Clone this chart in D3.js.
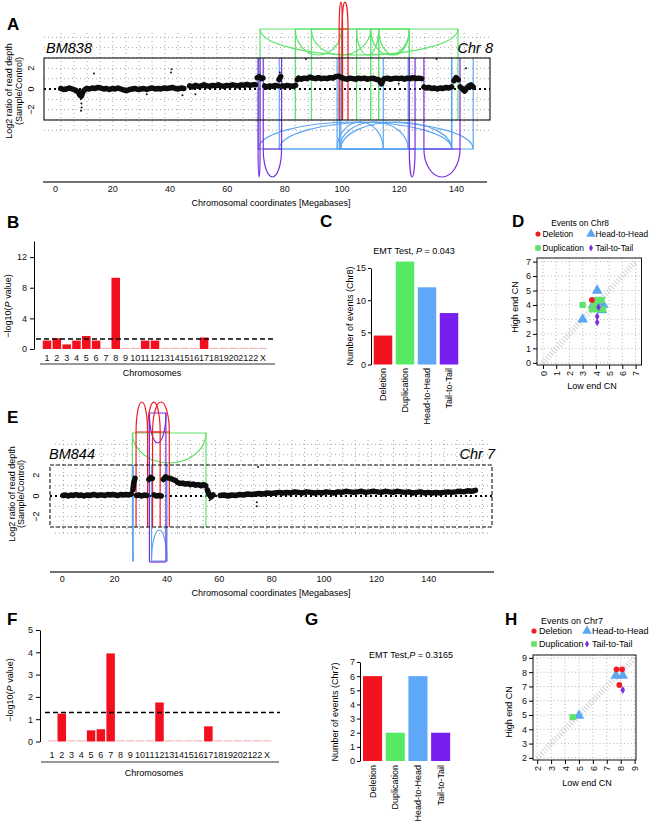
<!DOCTYPE html>
<html>
<head>
<meta charset="utf-8">
<script src="https://cdn.jsdelivr.net/npm/d3@7/dist/d3.min.js"></script>
<style>
  body { margin: 0; background: #fff; }
  svg { display: block; font-family: "Liberation Sans", Arial, sans-serif; }
</style>
</head>
<body>
<svg width="652" height="822"></svg>
<script>
'use strict'

// ---------- data ----------
const CHROMS = ['1','2','3','4','5','6','7','8','9','10','11','12','13','14','15','16','17','18','19','20','21','22','X'];
const EVENT_TYPES = ['Deletion', 'Duplication', 'Head-to-Head', 'Tail-to-Tail'];
const MB_TICKS = [0, 20, 40, 60, 80, 100, 120, 140];
const P_CUTOFF = 0.05;

// B and F: -log10(P) per chromosome
const bm838LogP = [1.1, 1.4, 0.6, 1.1, 1.7, 1.1, 0, 9.3, 0, 0, 1.1, 1.1, 0, 0, 0, 0, 1.5, 0, 0, 0, 0, 0, 0];
const bm844LogP = [0, 1.25, 0, 0, 0.5, 0.55, 3.95, 0, 0, 0, 0, 1.75, 0, 0, 0, 0, 0.68, 0, 0, 0, 0, 0, 0];

// C and G: events per type
const chr8EventCounts = [4.5, 16, 12, 8];
const chr7EventCounts = [6, 2, 6, 2];

// A: BM838 chr8 log2 read depth ratio, [Mb, log2]
const bm838Depth = [
  [[2,0.05],[3,-0.05],[4,0],[5,0.1],[6,0],[7,-0.1],[8,-0.25],[8.7,-0.6],[9.2,-0.7],[9.7,-0.3],[10.3,-0.1],[11,0.05],[12,0],[13,0.1],[14,0.05],[15,0.15],[16,0.1],[17,0],[18,0.05],[19,-0.05],[20,0.05],[21,0],[22,0.1],[23,0],[24,-0.1],[25,-0.15],[26,-0.05],[27,0],[28,0.05],[29,-0.05],[30,0],[31,0.05],[32,-0.05],[33,0.05],[34,0.1],[35,0],[36,0.05],[37,0],[38,0.1],[39,0.05],[40,0.1],[41,0.15],[42,0.05],[43,0],[44,0.1],[45,0.05]],
  [[47,0.3],[48,0.2],[49,0.35],[50,0.25],[51,0.3],[52,0.4],[53,0.3],[54,0.25],[55,0.35],[56,0.3],[57,0.4],[58,0.3],[59,0.25],[60,0.35],[61,0.3],[62,0.4],[63,0.35],[64,0.3],[65,0.4],[66,0.35],[67,0.45],[68,0.35],[69,0.4],[70,0.4]],
  [[70.6,1.1],[71.3,1.2],[72,1.0],[72.6,1.05]],
  [[73.2,0.3],[74,0.2],[75,0.3],[76,0.25],[77,0.35],[77.8,0.3]],
  [[78.2,0.9],[78.8,1.2]],
  [[79.4,0.3],[80,0.25],[81,0.35],[82,0.3],[83,0.25],[84,0.35]],
  [[84.6,0.9],[85,1.05],[86,0.95],[87,1.05],[88,1.0],[89,1.15],[90,1.05],[91,1.0],[92,1.1],[93,1.0],[94,1.05],[95,1.0],[96,1.1],[97,1.05],[98,1.2],[99,1.25],[100,1.1],[101,1.0],[102,0.95],[103,1.05],[104,1.0],[105,0.95],[106,1.05],[107,1.0],[108,1.05],[109,0.95],[110,1.0],[111,1.05],[112,0.95],[113,0.9],[114,0.5],[114.6,0.9],[115,1.0],[116,1.05],[117,0.95],[118,1.0],[119,1.05],[120,1.0],[121,1.05],[122,0.95],[123,1.05],[124,1.0],[125,1.1],[126,1.0],[127,1.05],[128,1.0]],
  [[128.8,0.2],[129.5,0.1],[130.5,0.15],[131.5,0.05],[132.5,0.1],[133.5,0],[134.5,0.1],[135.5,0.05],[136.5,0.15],[137.5,0.1],[138.5,0.2]],
  [[139.3,0.8],[140,1.1],[140.8,0.9]],
  [[141.5,0.2],[142.3,0],[143,-0.2],[143.8,0.1],[144.5,0.3],[145.2,0.4],[146,0.2]]
];
const bm838Outliers = [[13.6,1.5],[40.5,1.6],[40.7,1.9],[9,-1.0],[9.2,-1.4],[9.3,-1.8],[9.1,-2.1],[32,-0.5],[44.5,-0.6],[49,-0.5],[87.6,2.9],[133.2,2.9],[143.5,2.0],[78.5,1.6],[120,0.5]];

// A: rearrangement breakpoint pairs [Mb, Mb]
const bm838Deletion = [[99.2,100.4],[100.2,102.3]];
const bm838Duplication = [[71.6,140.7],[83.9,100],[89.5,110.2],[105.3,113],[110.2,123.7],[113,123.7]];
const bm838HeadToHead = [[71,138.5],[78.3,146],[98.5,114.6],[99.3,123.3],[99.8,138.5]];
const bm838TailToTail = [[70.9,71.6],[72.7,79.1],[123.7,125.7],[128.8,141.4]];

// E: BM844 chr7 log2 read depth ratio
const bm844Depth = [
  [[0.5,0.05],[1.5,0.1],[2.5,0],[3.5,0.1],[4.5,0.05],[5.5,0.15],[6.5,0.05],[7.5,0.1],[8.5,0],[9.5,0.1],[10.5,0.05],[11.5,0.1],[12.5,0.15],[13.5,0.05],[14.5,0.1],[15.5,0.1],[16.5,0.05],[17.5,0.15],[18.5,0.1],[19.5,0.15],[20.5,0.1],[21.5,0.05],[22.5,0.15],[23.5,0.1],[24.5,0.15],[25.5,0.1],[26.5,0.2]],
  [[27.2,0.6],[27.6,1.4],[28,1.7]],
  [[28.6,0.05],[29.5,0.1],[30.5,0],[31.5,0.1],[32.5,0.05]],
  [[33.3,1.6],[34,1.8],[34.6,1.7]],
  [[35.3,0.1],[36.2,0],[37.1,0.05],[38,0]],
  [[38.8,1.6],[39.6,1.85],[40.5,1.75],[41.5,1.7],[42.5,1.6],[43.5,1.5]],
  [[44.3,1.3],[45.2,1.2],[46.2,1.25],[47.2,1.15],[48.2,1.2],[49.2,1.1],[50.2,1.15],[51.2,1.05],[52.2,1.1],[53.2,1.0],[54.2,1.1],[55,1.0]],
  [[55.6,0.6],[56.2,0.2],[57,-0.1],[57.8,0.1]],
  [[60.5,0.05],[62,0.1],[63.5,0],[65,0.1],[66.5,0.05],[68,0.15],[69.5,0.1],[71,0.2],[72.5,0.15],[74,0.2],[75.5,0.25],[77,0.2],[78.5,0.3],[80,0.25],[81.5,0.3],[83,0.35],[84.5,0.3],[86,0.35],[87.5,0.3],[89,0.4],[90.5,0.35],[92,0.3],[93.5,0.4],[95,0.35],[96.5,0.3],[98,0.35],[99.5,0.3],[101,0.4],[102.5,0.35],[104,0.3],[105.5,0.4],[107,0.35],[108.5,0.45],[110,0.4],[111.5,0.35],[113,0.4],[114.5,0.45],[116,0.35],[117.5,0.4],[119,0.45],[120.5,0.4],[122,0.35],[123.5,0.45],[125,0.4],[126.5,0.35],[128,0.45],[129.5,0.4],[131,0.35],[132.5,0.4],[134,0.3],[135.5,0.35],[137,0.4],[138.5,0.3],[140,0.35],[141.5,0.3],[143,0.35],[144.5,0.3],[146,0.35],[147.5,0.4],[149,0.35],[150.5,0.4],[152,0.45],[153.5,0.4],[155,0.5],[156.5,0.45],[158,0.55]]
];
const bm844Outliers = [[74.5,-0.6],[74.5,-1.0],[75,2.8],[27,0.9],[56.5,-0.4]];

// E: rearrangement breakpoint pairs
const bm844Deletion = [[28.4,32.8],[32.8,37.6],[34.7,41.1]];
const bm844Duplication = [[27,55.1]];
const bm844HeadToHead = [[27.1,27.3],[34.3,40.2]];
const bm844TailToTail = [[33.5,39.8]];

// D: chr8 events, [low end CN, high end CN]
const chr8CnDeletion = [[3.7,4.35]];
const chr8CnDuplication = [[3.0,4.0],[3.7,3.7],[3.85,4.0],[4.1,4.0],[4.1,4.35],[4.45,4.35],[4.55,3.7],[4.1,3.7]];
const chr8CnHeadToHead = [[3.0,3.0],[3.8,4.0],[4.1,5.0],[4.55,4.0],[4.45,3.65]];
const chr8CnTailToTail = [[4.2,3.85],[4.1,3.2],[4.1,2.8]];

// H: chr7 events
const chr7CnDeletion = [[7.7,8.2],[8.1,8.2],[7.9,7.1]];
const chr7CnDuplication = [[4.55,4.85]];
const chr7CnHeadToHead = [[7.65,7.75],[8.15,7.75],[5.0,4.95]];
const chr7CnTailToTail = [[8.15,6.75]];

// ---------- drawing ----------
const svg = d3.select('svg');
const COLORS = { del: '#ee1d25', dup: '#5fe36c', h2h: '#5ba6f2', t2t: '#7b2fe0' };
const BAR_COLORS = ['#f2131f', '#56ea63', '#5ea8f7', '#781ff0'];
const P_RED = '#f2101e';
const intFmt = d3.format('d');

function panelLabel(t, x, y) {
  svg.append('text').attr('x', x).attr('y', y)
    .attr('font-size', 17).attr('font-weight', 'bold').text(t);
}

function rotText(g, t, cx, cy) {
  return g.append('text')
    .attr('transform', `translate(${cx},${cy}) rotate(-90)`)
    .attr('text-anchor', 'middle').attr('dy', '0.35em')
    .attr('font-size', 9).text(t);
}

// half ellipse closed by its chord; negative depth goes up
function arcPath(x1, x2, base, depth) {
  const rx = Math.max((x2 - x1) / 2, 0.4);
  return `M${x1},${base}A${rx},${Math.abs(depth)} 0 0 ${depth < 0 ? 1 : 0} ${x2},${base}Z`;
}

function styleAxis(a) {
  a.attr('font-family', null).attr('font-size', 9);
  a.selectAll('text').attr('fill', '#111');
}

function drawCopyNumber(o) {
  const g = svg.append('g');
  const [fl, ft, fr, fb] = o.frame;
  const x = d3.scaleLinear().domain([0, 140]).range(o.xRange);
  const y = d3.scaleLinear().domain([-3, 3]).range([fb, ft]);

  // dotted guide grid, runs past the box
  const cols = d3.range(o.gridFrom, 170, o.gridStep).filter(d => x(d) < fr);
  g.append('g').selectAll('line').data(cols).join('line')
    .attr('x1', d => x(d)).attr('x2', d => x(d))
    .attr('y1', o.gridY[0]).attr('y2', o.gridY[1])
    .attr('stroke', '#8c8c8c').attr('stroke-width', 0.8).attr('stroke-dasharray', '1 3');
  g.append('g').selectAll('line').data(o.gridRows).join('line')
    .attr('x1', o.gridX[0]).attr('x2', o.gridX[1])
    .attr('y1', d => y(d)).attr('y2', d => y(d))
    .attr('stroke', '#8c8c8c').attr('stroke-width', 0.8).attr('stroke-dasharray', '1 3');
  g.append('line').attr('x1', fl).attr('x2', fr).attr('y1', y(0)).attr('y2', y(0))
    .attr('stroke', '#000').attr('stroke-width', 2).attr('stroke-dasharray', '2 3');

  // rearrangements
  ['dup', 'h2h', 't2t', 'del'].forEach(k => {
    const s = o.style[k];
    const ev = g.append('g').attr('stroke', COLORS[k]).attr('fill', 'none').attr('stroke-width', 1.2);
    ev.selectAll(null).data(o.events[k].flat()).join('line')
      .attr('x1', d => x(d)).attr('x2', d => x(d)).attr('y1', s.v[0]).attr('y2', s.v[1]);
    if (s.endChord) {
      ev.selectAll(null).data(o.events[k]).join('line')
        .attr('x1', d => x(d[0])).attr('x2', d => x(d[1])).attr('y1', s.v[1]).attr('y2', s.v[1]);
    }
    ev.selectAll(null).data(o.events[k]).join('path')
      .attr('d', d => arcPath(x(d[0]), x(d[1]), s.base, s.depth));
  });

  // read depth
  const line = d3.line().x(d => x(d[0])).y(d => y(d[1]));
  g.append('g').selectAll('path').data(o.depth).join('path')
    .attr('d', line).attr('fill', 'none').attr('stroke', '#0d0d0d').attr('stroke-width', 5.5)
    .attr('stroke-linejoin', 'round').attr('stroke-linecap', 'round');
  g.append('g').selectAll('circle').data(o.outliers).join('circle')
    .attr('cx', d => x(d[0])).attr('cy', d => y(d[1])).attr('r', 1).attr('fill', '#111');

  g.append('rect').attr('x', fl).attr('y', ft).attr('width', fr - fl).attr('height', fb - ft)
    .attr('fill', 'none').attr('stroke', '#111').attr('stroke-width', 1.1)
    .attr('stroke-dasharray', o.dashed ? '4 2' : null);

  g.append('g').selectAll('text').data([-2, 0, 2]).join('text')
    .attr('transform', d => `translate(${o.yLabelX},${y(d)}) rotate(-90)`)
    .attr('text-anchor', 'middle').attr('dy', '0.35em').attr('font-size', 9)
    .text(d => d < 0 ? '\u2212' + (-d) : d);
  rotText(g, 'Log2 ratio of read depth', o.titleX[0], o.titleY);
  rotText(g, '(Sample/Control)', o.titleX[1], o.titleY);

  const ax = g.append('g').attr('transform', `translate(0,${o.axisY})`)
    .call(d3.axisBottom(x).tickValues(MB_TICKS).tickSize(0).tickPadding(4));
  ax.select('.domain').remove();
  styleAxis(ax);
  g.append('line').attr('x1', o.axisX[0]).attr('x2', o.axisX[1]).attr('y1', o.axisY).attr('y2', o.axisY)
    .attr('stroke', '#444').attr('stroke-width', 1.6);
  g.append('text').attr('x', o.xTitle[0]).attr('y', o.xTitle[1]).attr('text-anchor', 'middle')
    .attr('font-size', 9).text('Chromosomal coordinates [Megabases]');

  g.append('text').attr('x', o.sampleX).attr('y', o.nameY).attr('font-size', 14.5)
    .attr('font-style', 'italic').text(o.sample);
  g.append('text').attr('x', o.chromX).attr('y', o.nameY).attr('font-size', 14.5)
    .attr('font-style', 'italic').attr('text-anchor', 'end').text(o.chrom);
}

function logPTitle(g, cx, cy) {
  const t = g.append('text').attr('transform', `translate(${cx},${cy}) rotate(-90)`)
    .attr('text-anchor', 'middle').attr('dy', '0.35em').attr('font-size', 9);
  t.append('tspan').text('\u2212log10(');
  t.append('tspan').attr('font-style', 'italic').text('P');
  t.append('tspan').text(' value)');
}

function drawPBars(o) {
  const g = svg.append('g');
  const x = d3.scaleBand().domain(CHROMS).range(o.xRange).paddingInner(0.13).paddingOuter(0.065);
  const y = d3.scaleLinear().domain([0, o.yMax]).range([o.y0, o.yTop]);
  g.append('g').selectAll('rect').data(o.values).join('rect')
    .attr('x', (d, i) => x(CHROMS[i])).attr('width', x.bandwidth())
    .attr('y', d => d > 0 ? y(d) : y(0) - 1.2).attr('height', d => d > 0 ? y(0) - y(d) : 1.2)
    .attr('fill', d => d > 0 ? P_RED : '#f7b8bc');
  const cut = -Math.log10(P_CUTOFF);
  g.append('line').attr('x1', o.cutX[0]).attr('x2', o.cutX[1]).attr('y1', y(cut)).attr('y2', y(cut))
    .attr('stroke', '#000').attr('stroke-width', 1.4).attr('stroke-dasharray', '5 3');

  const ay = g.append('g').attr('transform', `translate(${o.axisX},0)`)
    .call(d3.axisLeft(y).tickValues(o.yTicks).tickFormat(intFmt).tickSize(4).tickPadding(3).tickSizeOuter(0));
  styleAxis(ay);
  const ax = g.append('g').attr('transform', `translate(0,${o.y0})`)
    .call(d3.axisBottom(x).tickSize(0).tickPadding(o.labelPad));
  ax.select('.domain').remove();
  styleAxis(ax);
  g.append('line').attr('x1', o.baseX[0]).attr('x2', o.baseX[1]).attr('y1', o.baseY).attr('y2', o.baseY)
    .attr('stroke', '#333').attr('stroke-width', 1.2);
  g.append('text').attr('x', o.xTitle[0]).attr('y', o.xTitle[1]).attr('text-anchor', 'middle')
    .attr('font-size', 9).text('Chromosomes');
  logPTitle(g, o.yTitle[0], o.yTitle[1]);
}

function drawEventBars(o) {
  const g = svg.append('g');
  const x = d3.scaleBand().domain(EVENT_TYPES).range(o.xRange).paddingInner(0.16).paddingOuter(0.08);
  const y = d3.scaleLinear().domain([0, o.yMax]).range([o.y0, o.yTop]);
  g.append('g').selectAll('rect').data(o.values).join('rect')
    .attr('x', (d, i) => x(EVENT_TYPES[i])).attr('width', x.bandwidth())
    .attr('y', d => y(d)).attr('height', d => y(0) - y(d))
    .attr('fill', (d, i) => BAR_COLORS[i]);
  const ay = g.append('g').attr('transform', `translate(${o.axisX},0)`)
    .call(d3.axisLeft(y).tickValues(o.yTicks).tickFormat(intFmt).tickSize(3).tickPadding(2).tickSizeOuter(0));
  styleAxis(ay);
  g.append('g').selectAll('text').data(EVENT_TYPES).join('text')
    .attr('transform', d => `translate(${x(d) + x.bandwidth() / 2},${o.labelY}) rotate(-90)`)
    .attr('text-anchor', 'end').attr('dy', '0.35em').attr('font-size', 9).text(d => d);
  const t = g.append('text').attr('x', o.title[0]).attr('y', o.title[1])
    .attr('text-anchor', 'middle').attr('font-size', 9);
  t.append('tspan').text(o.titlePrefix);
  t.append('tspan').attr('font-style', 'italic').text('P');
  t.append('tspan').text(' = ' + o.p);
  rotText(g, o.yLabel, o.yTitle[0], o.yTitle[1]);
}

const SYMBOLS = { del: d3.symbolCircle, dup: d3.symbolSquare, h2h: d3.symbolTriangle, t2t: d3.symbolDiamond };
const SYM_SIZE = { del: 26, dup: 38, h2h: 50, t2t: 18 };

function drawCnScatter(o) {
  const g = svg.append('g');
  const [bl, bt, br, bb] = o.box;
  const x = d3.scaleLinear().domain(o.xDomain).range([bl, br]);
  const y = d3.scaleLinear().domain(o.yDomain).range([bb, bt]);
  const ticks = d3.range(o.tickFrom, o.tickTo + 1);

  g.append('g').selectAll('line').data(ticks).join('line')
    .attr('x1', d => x(d)).attr('x2', d => x(d)).attr('y1', bt).attr('y2', bb)
    .attr('stroke', '#9a9a9a').attr('stroke-width', 0.7).attr('stroke-dasharray', '1 2.5');
  g.append('g').selectAll('line').data(ticks).join('line')
    .attr('x1', bl).attr('x2', br).attr('y1', d => y(d)).attr('y2', d => y(d))
    .attr('stroke', '#9a9a9a').attr('stroke-width', 0.7).attr('stroke-dasharray', '1 2.5');
  // diagonal low == high
  g.append('line').attr('x1', x(o.tickFrom)).attr('y1', y(o.tickFrom))
    .attr('x2', x(o.tickTo)).attr('y2', y(o.tickTo))
    .attr('stroke', '#d2d2d2').attr('stroke-width', 6).attr('stroke-dasharray', '1 2');
  g.append('rect').attr('x', bl).attr('y', bt).attr('width', br - bl).attr('height', bb - bt)
    .attr('fill', 'none').attr('stroke', '#111').attr('stroke-width', 1);

  const ay = g.append('g').attr('transform', `translate(${bl},0)`)
    .call(d3.axisLeft(y).tickValues(ticks).tickFormat(intFmt).tickSize(4).tickPadding(2));
  ay.select('.domain').remove();
  styleAxis(ay);
  const ax = g.append('g').attr('transform', `translate(0,${bb})`)
    .call(d3.axisBottom(x).tickValues(ticks).tickFormat(intFmt).tickSize(4).tickPadding(2));
  ax.select('.domain').remove();
  styleAxis(ax);
  ax.selectAll('text').attr('transform', 'rotate(-90)').attr('x', -6).attr('y', 0)
    .attr('dy', '0.35em').attr('text-anchor', 'end');

  ['h2h', 'dup', 'del', 't2t'].forEach(k => {
    g.append('g').selectAll('path').data(o.points[k]).join('path')
      .attr('transform', d => `translate(${x(d[0])},${y(d[1])})`)
      .attr('d', d3.symbol(SYMBOLS[k], SYM_SIZE[k])).attr('fill', COLORS[k]);
  });

  g.append('text').attr('x', o.xTitle[0]).attr('y', o.xTitle[1]).attr('text-anchor', 'middle')
    .attr('font-size', 9).text('Low end CN');
  rotText(g, 'High end CN', o.yTitle[0], o.yTitle[1]);

  // legend
  const lg = g.append('g').attr('font-size', o.legend.fontSize);
  lg.append('text').attr('x', o.legend.titleX).attr('y', o.legend.titleY)
    .attr('text-anchor', 'middle').text(o.legend.title);
  const items = [['del', 'Deletion', 0, 0], ['h2h', 'Head-to-Head', 1, 0],
                 ['dup', 'Duplication', 0, 1], ['t2t', 'Tail-to-Tail', 1, 1]];
  items.forEach(([k, name, c, r]) => {
    const by = o.legend.rows[r];
    lg.append('path').attr('transform', `translate(${o.legend.symX[c]},${by - 3})`)
      .attr('d', d3.symbol(SYMBOLS[k], SYM_SIZE[k] * 0.8)).attr('fill', COLORS[k]);
    lg.append('text').attr('x', o.legend.textX[c]).attr('y', by).text(name);
  });
}

// ----- A -----
panelLabel('A', 7, 30);
drawCopyNumber({
  xRange: [55, 456], frame: [44, 58, 490, 120], dashed: false,
  gridFrom: 2.1, gridStep: 4.54, gridY: [33, 133], gridX: [44, 490],
  gridRows: [5, 4, 3, 2, 1, -1, -2, -3, -4],
  depth: bm838Depth, outliers: bm838Outliers,
  events: { del: bm838Deletion, dup: bm838Duplication, h2h: bm838HeadToHead, t2t: bm838TailToTail },
  style: {
    del: { base: 29, depth: -27, v: [29, 120] },
    dup: { base: 29, depth: 26, v: [29, 120] },
    h2h: { base: 149, depth: -27, v: [58, 149] },
    t2t: { base: 149, depth: 28, v: [58, 149] }
  },
  yLabelX: 31, titleX: [8.5, 19], titleY: 91,
  axisY: 182, axisX: [43, 487], xTitle: [271, 206],
  sample: 'BM838', chrom: 'Chr 8', sampleX: 46, chromX: 493, nameY: 53
});

// ----- B -----
panelLabel('B', 7, 228);
drawPBars({
  values: bm838LogP, xRange: [42.1, 267.9], yMax: 14.1, y0: 349, yTop: 241,
  yTicks: [0, 4, 8, 12], axisX: 34, cutX: [36, 275], labelPad: 5.3,
  baseX: [40, 275], baseY: 364, xTitle: [152, 376], yTitle: [8, 306]
});

// ----- C -----
panelLabel('C', 320, 227);
drawEventBars({
  values: chr8EventCounts, xRange: [372, 460], yMax: 15, y0: 364.5, yTop: 268,
  yTicks: [0, 5, 10, 15], axisX: 371, labelY: 368,
  title: [414, 254], titlePrefix: 'EMT Test, ', p: '0.043',
  yLabel: 'Number of events (Chr8)', yTitle: [350, 316]
});

// ----- D -----
panelLabel('D', 512, 227);
drawCnScatter({
  box: [537, 258, 641.5, 365], xDomain: [-0.45, 7.45], yDomain: [-0.15, 7.25],
  tickFrom: 0, tickTo: 7,
  points: { del: chr8CnDeletion, dup: chr8CnDuplication, h2h: chr8CnHeadToHead, t2t: chr8CnTailToTail },
  xTitle: [592, 389], yTitle: [515, 307],
  legend: { title: 'Events on Chr8', titleX: 580, titleY: 226, rows: [237, 251],
            symX: [538, 591], textX: [542.5, 595.5], fontSize: 8.4 }
});

// ----- E -----
panelLabel('E', 7, 423);
drawCopyNumber({
  xRange: [61.7, 428.3], frame: [50, 465, 492, 527], dashed: true,
  gridFrom: 0.6, gridStep: 4.85, gridY: [440, 536], gridX: [55, 490],
  gridRows: [5, 4, 3, 2, 1, -1, -2, -3, -3.6],
  depth: bm844Depth, outliers: bm844Outliers,
  events: { del: bm844Deletion, dup: bm844Duplication, h2h: bm844HeadToHead, t2t: bm844TailToTail },
  style: {
    del: { base: 432, depth: -30, v: [432, 527] },
    dup: { base: 433, depth: 30, v: [433, 527] },
    h2h: { base: 561, depth: -31, v: [465, 561] },
    t2t: { base: 413, depth: 30, v: [413, 562], endChord: true }
  },
  yLabelX: 36, titleX: [12, 21], titleY: 494,
  axisY: 572, axisX: [50, 494], xTitle: [271, 596],
  sample: 'BM844', chrom: 'Chr 7', sampleX: 49, chromX: 495, nameY: 459
});

// ----- F -----
panelLabel('F', 7, 625);
drawPBars({
  values: bm844LogP, xRange: [47.1, 271.9], yMax: 5, y0: 741.5, yTop: 630,
  yTicks: [0, 1, 2, 3, 4, 5], axisX: 40, cutX: [45, 280], labelPad: 9.8,
  baseX: [41, 279], baseY: 762, xTitle: [154, 776], yTitle: [10, 690]
});

// ----- G -----
panelLabel('G', 305, 625);
drawEventBars({
  values: chr7EventCounts, xRange: [361.2, 452], yMax: 7, y0: 761, yTop: 662,
  yTicks: [0, 1, 2, 3, 4, 5, 6, 7], axisX: 360, labelY: 765,
  title: [411, 658], titlePrefix: 'EMT Test,', p: '0.3165',
  yLabel: 'Number of events (Chr7)', yTitle: [335, 712]
});

// ----- H -----
panelLabel('H', 505, 625);
drawCnScatter({
  box: [533, 655, 636, 760], xDomain: [1.7, 9.1], yDomain: [1.85, 9.2],
  tickFrom: 2, tickTo: 9,
  points: { del: chr7CnDeletion, dup: chr7CnDuplication, h2h: chr7CnHeadToHead, t2t: chr7CnTailToTail },
  xTitle: [587, 786], yTitle: [509, 712],
  legend: { title: 'Events on Chr7', titleX: 572, titleY: 624, rows: [634, 647],
            symX: [534, 587], textX: [539, 592], fontSize: 9 }
});
</script>
</body>
</html>
